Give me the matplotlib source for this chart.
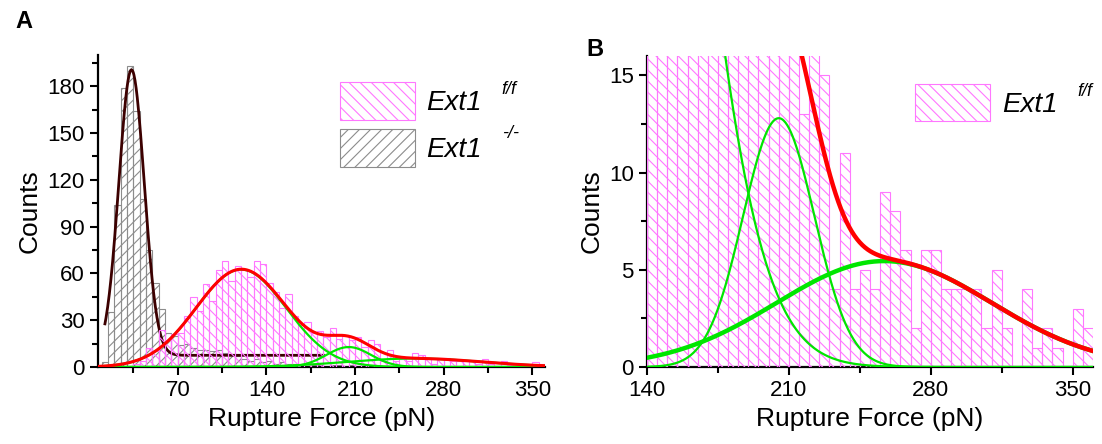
import numpy as np
import matplotlib.pyplot as plt
from matplotlib.ticker import MultipleLocator

plt.rcParams['font.family'] = ['Liberation Sans', 'DejaVu Sans']
plt.rcParams['hatch.linewidth'] = 0.8

# histogram data, 5 pN bins
bin_width = 5
ko_start = 10   # Ext1 -/-
ko_counts = [3, 35, 104, 179, 193, 164, 108, 75, 54, 37,
             22, 20, 14, 15, 12, 11, 11, 10, 11, 9,
             8, 7, 5, 4, 5, 3, 4, 2, 3, 2,
             2, 1, 2, 1, 1, 0, 1, 1, 0, 1]
ff_start = 35   # Ext1 f/f
ff_counts = [2, 4, 12, 10, 24, 17, 21, 22, 33, 45,
             36, 53, 42, 62, 68, 55, 65, 62, 58, 68,
             66, 54, 48, 38, 47, 33, 27, 29, 22, 23,
             19, 25, 18, 20, 17, 19, 13, 17, 15, 4,
             11, 4, 5, 4, 9, 8, 6, 2, 6, 6,
             4, 4, 4, 4, 2, 5, 2, 0, 4, 1,
             2, 1, 0, 3, 2]

# gaussian fits
ko_fit_base = 7.5
ko_fit_amp = 183
ko_fit_center = 33.5
ko_fit_sigma = 10
ko_fit_range = [12.5, 185]
ff_fit_amps = [62.5, 12.8, 5.45]
ff_fit_centers = [120, 205, 257]
ff_fit_sigmas = [35.5, 17.6, 53]

PINK = '#ff77ff'
GRAY = '#8c8c8c'
GREEN = '#00e600'
RED = '#ff0000'
DARK = '#3c0000'


def gauss(x, a, c, s):
    return a * np.exp(-(x - c) ** 2 / (2 * s * s))


def style_axes(ax):
    for side in ['top', 'right']:
        ax.spines[side].set_visible(False)
    for side in ['left', 'bottom']:
        ax.spines[side].set_linewidth(1.6)
    ax.tick_params(which='major', length=6, width=1.5, labelsize=16, direction='out')
    ax.tick_params(which='minor', length=4, width=1.5, direction='out')
    ax.set_xlabel('Rupture Force (pN)', fontsize=19)
    ax.set_ylabel('Counts', fontsize=19)


ko_edges = ko_start + bin_width * np.arange(len(ko_counts))
ff_edges = ff_start + bin_width * np.arange(len(ff_counts))

fig = plt.figure(figsize=(11.02, 4.44), dpi=100)
axA = fig.add_axes([0.0889, 0.1734, 0.4057, 0.7027])
axB = fig.add_axes([0.5871, 0.1734, 0.4047, 0.7005])

legend_opts = dict(loc='upper left', frameon=False, borderpad=0, borderaxespad=0,
                   handlelength=2.7, handleheight=1.7, handletextpad=0.42,
                   labelspacing=0.35, prop={'style': 'italic', 'size': 20})

# ---- panel A ----
ko_bars = axA.bar(ko_edges, ko_counts, width=bin_width, align='edge', fill=False,
                  hatch='///', edgecolor=GRAY, linewidth=0.8, zorder=1)
xk = np.linspace(ko_fit_range[0], ko_fit_range[1], 400)
axA.plot(xk, ko_fit_base + gauss(xk, ko_fit_amp, ko_fit_center, ko_fit_sigma),
         color=DARK, lw=2, zorder=2)
ff_bars = axA.bar(ff_edges, ff_counts, width=bin_width, align='edge', fill=False,
                  hatch='\\\\\\', edgecolor=PINK, linewidth=0.8, zorder=3)
xa = np.linspace(7, 360, 600)
total = np.zeros_like(xa)
for a, c, s in zip(ff_fit_amps, ff_fit_centers, ff_fit_sigmas):
    g = gauss(xa, a, c, s)
    total += g
    axA.plot(xa, g, color=GREEN, lw=1.6, zorder=4)
axA.plot(xa, total, color=RED, lw=2.2, zorder=5)

axA.set_xlim(7, 360)
axA.set_ylim(0, 200)
axA.xaxis.set_major_locator(MultipleLocator(70))
axA.xaxis.set_minor_locator(MultipleLocator(35))
axA.yaxis.set_major_locator(MultipleLocator(30))
axA.yaxis.set_minor_locator(MultipleLocator(15))
style_axes(axA)

axA.legend([ff_bars, ko_bars], ['Ext1', 'Ext1'], bbox_to_anchor=(0.541, 0.913),
           **legend_opts)
axA.text(0.903, 0.89, 'f/f', transform=axA.transAxes, fontsize=13, style='italic',
         ha='left', va='center')
axA.text(0.903, 0.75, '-/-', transform=axA.transAxes, fontsize=13, style='italic',
         ha='left', va='center')

# ---- panel B ----
ff_barsB = axB.bar(ff_edges, ff_counts, width=bin_width, align='edge', fill=False,
                   hatch='\\\\\\', edgecolor=PINK, linewidth=0.8, zorder=3)
xb = np.linspace(140, 360, 500)
totalb = np.zeros_like(xb)
for a, c, s, lw in zip(ff_fit_amps, ff_fit_centers, ff_fit_sigmas, [1.6, 1.6, 3.2]):
    g = gauss(xb, a, c, s)
    totalb += g
    axB.plot(xb, g, color=GREEN, lw=lw, zorder=4)
axB.plot(xb, totalb, color=RED, lw=3.2, zorder=5)

axB.set_xlim(140, 360)
axB.set_ylim(0, 16)
axB.xaxis.set_major_locator(MultipleLocator(70))
axB.xaxis.set_minor_locator(MultipleLocator(35))
axB.yaxis.set_major_locator(MultipleLocator(5))
axB.yaxis.set_minor_locator(MultipleLocator(2.5))
style_axes(axB)

axB.legend([ff_barsB], ['Ext1'], bbox_to_anchor=(0.602, 0.91), **legend_opts)
axB.text(0.966, 0.887, 'f/f', transform=axB.transAxes, fontsize=13, style='italic',
         ha='left', va='center')

fig.text(0.014, 0.978, 'A', fontsize=17, fontweight='bold', va='top')
fig.text(0.532, 0.915, 'B', fontsize=17, fontweight='bold', va='top')

fig.savefig('out.png', dpi=100)
